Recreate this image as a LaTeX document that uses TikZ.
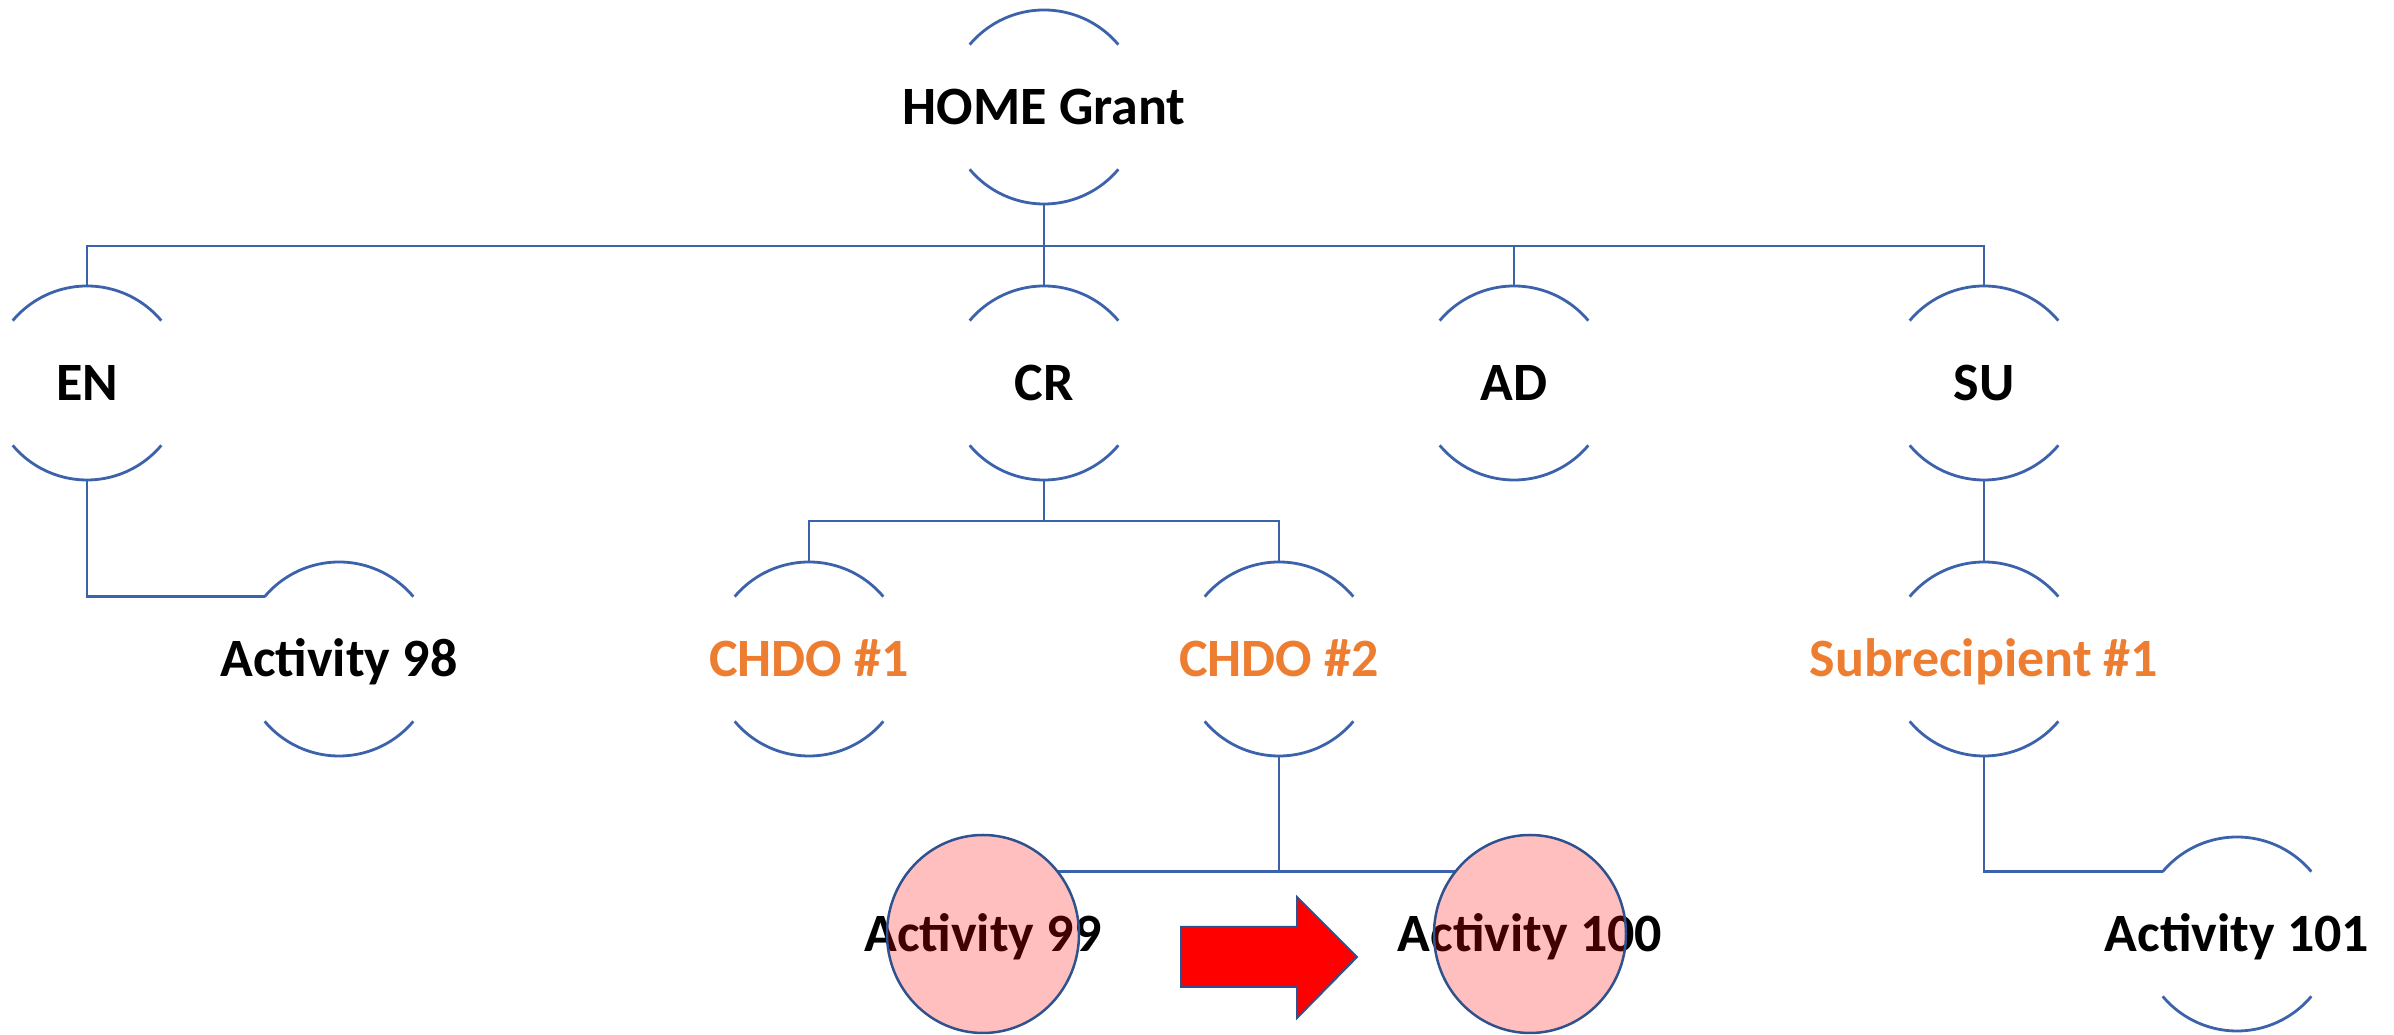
\documentclass[tikz,border=0pt]{standalone}
\usepackage{fontspec}
\setmainfont{Carlito}
\definecolor{linec}{RGB}{59,98,170}
\definecolor{orangec}{RGB}{237,125,49}
\definecolor{circc}{RGB}{47,82,143}
\newcommand{\zw}[1]{\makebox[0pt]{#1}}
\begin{document}
\begin{tikzpicture}[x=1pt,y=1pt,
  bnode/.style={circle, minimum size=194pt, inner sep=0pt, outer sep=0pt,
    font=\bfseries\fontsize{54}{60}\selectfont, text height=35pt, text depth=0pt},
  orange/.style={text=orangec},
  arcline/.style={draw=linec, line width=2.8pt},
  conn/.style={draw=linec, line width=2.8pt},
  hilite/.style={draw=circc, line width=2.5pt, fill=red, fill opacity=0.25},
  bigarrow/.style={draw=circc, line width=2pt, fill=red, line join=miter}
]
\useasboundingbox (0,0) rectangle (2394,1035);

% nodes
\node[bnode] (home) at (1044,928) {\zw{HOME Grant}};
\node[bnode] (en) at (87,652) {\zw{EN}};
\node[bnode] (cr) at (1044,652) {\zw{CR}};
\node[bnode] (ad) at (1514,652) {\zw{AD}};
\node[bnode] (su) at (1984,652) {\zw{SU}};
\node[bnode] (a98) at (339,376) {\zw{Activity 98}};
\node[bnode,orange] (ch1) at (809,376) {\zw{CHDO \#1}};
\node[bnode,orange] (ch2) at (1279,376) {\zw{CHDO \#2}};
\node[bnode,orange] (sub) at (1984,376) {\zw{Subrecipient \#1}};
\node[bnode] (a99) at (983,101) {\zw{Activity 99}};
\node[bnode] (a100) at (1530,101) {\zw{Activity 100}};
\node[bnode] (a101) at (2237,101) {\zw{Activity 101}};

% arcs round the text nodes
\foreach \n in {home,en,cr,ad,su,a98,ch1,ch2,sub,a101}
  \draw[arcline] (\n.40) arc[start angle=40,end angle=140,radius=97]
                 (\n.220) arc[start angle=220,end angle=320,radius=97];

% connectors
\coordinate (bus) at (0,789);
\coordinate (crbus) at (0,514);
\draw[conn] (home.south) -- (cr.north);
\draw[conn] (en.north) -- (en.north |- bus) -- (su.north |- bus) -- (su.north);
\draw[conn] (ad.north) -- (ad.north |- bus);
\draw[conn] (cr.south) -- (cr.south |- crbus);
\draw[conn] (ch1.north) -- (ch1.north |- crbus) -- (ch2.north |- crbus) -- (ch2.north);
\draw[conn] (en.south) |- (a98.140);
\draw[conn] (su.south) -- (sub.north);
\draw[conn] (sub.south) |- (a101.140);
\draw[conn] (ch2.south) -- (ch2.south |- a99.40);
\draw[conn] (a99.40) -- (a100.140);

% highlighted circles over the text
\draw[hilite] (a99.center) ellipse[x radius=96, y radius=99];
\draw[hilite] (a100.center) ellipse[x radius=96, y radius=99];

% big red arrow
\draw[bigarrow] (1181,108) -- (1297,108) -- (1297,138) -- (1357,78)
  -- (1297,17) -- (1297,48) -- (1181,48) -- cycle;
\end{tikzpicture}
\end{document}
